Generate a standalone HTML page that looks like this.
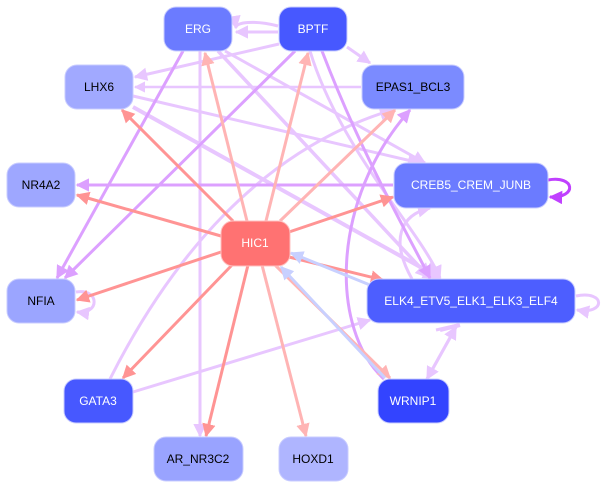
<!DOCTYPE html>
<html><head><meta charset="utf-8"><style>
html,body{margin:0;padding:0;background:#fff;width:606px;height:489px;overflow:hidden}
text{font-family:"Liberation Sans",sans-serif;font-size:12px;text-anchor:middle;dominant-baseline:central}
</style></head><body>
<svg width="606" height="489" viewBox="0 0 606 489" xmlns="http://www.w3.org/2000/svg">
<defs>
<marker id="r" viewBox="0 0 10 10" refX="9" refY="5" markerWidth="4.5" markerHeight="4.5" orient="auto"><path d="M0,0L10,5L0,10z" fill="#ff9494"/></marker>
<marker id="rl" viewBox="0 0 10 10" refX="9" refY="5" markerWidth="4.5" markerHeight="4.5" orient="auto"><path d="M0,0L10,5L0,10z" fill="#ffb4b4"/></marker>
<marker id="p" viewBox="0 0 10 10" refX="9" refY="5" markerWidth="4.5" markerHeight="4.5" orient="auto"><path d="M0,0L10,5L0,10z" fill="#dca0ff"/></marker>
<marker id="pl" viewBox="0 0 10 10" refX="9" refY="5" markerWidth="4.5" markerHeight="4.5" orient="auto"><path d="M0,0L10,5L0,10z" fill="#e8c6ff"/></marker>
<marker id="pd" viewBox="0 0 10 10" refX="9" refY="5" markerWidth="4.5" markerHeight="4.5" orient="auto"><path d="M0,0L10,5L0,10z" fill="#c040ff"/></marker>
<marker id="b" viewBox="0 0 10 10" refX="9" refY="5" markerWidth="4.5" markerHeight="4.5" orient="auto"><path d="M0,0L10,5L0,10z" fill="#c8d0ff"/></marker>
</defs>
<g fill="none" stroke-width="3">
<g stroke="#e8c6ff" marker-end="url(#pl)">
<line x1="200" y1="51" x2="200" y2="436"/>
<line x1="361" y1="87" x2="135" y2="87" stroke-width="2.5"/>
<line x1="279" y1="44" x2="135" y2="77"/>
<line x1="133" y1="96" x2="420" y2="163"/>
<line x1="133" y1="107" x2="440" y2="278" stroke-width="4"/>
<line x1="218" y1="51" x2="430" y2="278" stroke-width="3.5"/>
<line x1="225" y1="51" x2="425" y2="163"/>
<line x1="133" y1="392" x2="370" y2="320"/>
<path d="M110,379 C170,260 260,150 392,110"/>
<path d="M412,279 C390,240 400,215 430,208"/>
<path d="M310,51 C340,150 420,230 440,278"/>
<line x1="436" y1="330" x2="458" y2="325" marker-end="none"/>
<line x1="440" y1="330" x2="460" y2="325" stroke-width="4" marker-end="none"/>
<line x1="427" y1="379" x2="456" y2="327"/>
<line x1="456" y1="327" x2="427" y2="379"/>
<path d="M576,296 C606,290 606,315 577,310"/>
<path d="M76,292 C100,288 100,315 77,312"/>
<path d="M278,26 C255,20 235,22 236,28"/>
<line x1="278" y1="32" x2="236" y2="32"/>
<line x1="347" y1="47" x2="370" y2="63"/>
</g>
<g stroke="#dca0ff" marker-end="url(#p)">
<line x1="393" y1="185" x2="77" y2="185"/>
<line x1="183" y1="51" x2="57" y2="278"/>
<line x1="295" y1="51" x2="65" y2="278"/>
<path d="M384,379 C330,330 330,200 410,110"/>
<path d="M322,51 C360,150 400,220 430,278"/>
</g>
<g stroke="#ff9494" marker-end="url(#r)">
<line x1="221" y1="236" x2="77" y2="195"/>
<line x1="221" y1="252" x2="77" y2="300"/>
<line x1="233" y1="221" x2="122" y2="110"/>
<line x1="289" y1="232" x2="393" y2="197"/>
<line x1="289" y1="257" x2="383" y2="280"/>
<line x1="232" y1="265" x2="123" y2="378"/>
<line x1="248" y1="265" x2="206" y2="436"/>
</g>
<g stroke="#ffb4b4" marker-end="url(#rl)">
<line x1="247" y1="221" x2="205" y2="53"/>
<line x1="266" y1="221" x2="308" y2="53"/>
<line x1="280" y1="221" x2="395" y2="110"/>
<line x1="262" y1="265" x2="306" y2="436"/>
<line x1="275" y1="265" x2="390" y2="378"/>
</g>
<g stroke="#c8d0ff" marker-end="url(#b)">
<line x1="370" y1="285" x2="291" y2="253"/>
<line x1="385" y1="378" x2="281" y2="267"/>
</g>
<path d="M548,180 C575,175 578,198 550,197" stroke="#c040ff" marker-end="url(#pd)"/>
</g>
<g stroke="#c8ccff" stroke-width="1">
<rect x="164" y="7" width="68" height="44" rx="12" fill="#6b7bff"/>
<rect x="279" y="7" width="68" height="44" rx="12" fill="#4758ff"/>
<rect x="362" y="65" width="102" height="44" rx="12" fill="#7b8bff"/>
<rect x="65" y="65" width="68" height="44" rx="12" fill="#a1a9ff"/>
<rect x="7" y="163" width="68" height="44" rx="12" fill="#9ea7ff"/>
<rect x="394" y="163" width="154" height="45" rx="12" fill="#6b7bff"/>
<rect x="221" y="221" width="69" height="45" rx="12" fill="#ff7272" stroke="#ffc0c0"/>
<rect x="7" y="279" width="68" height="44" rx="12" fill="#9ba5ff"/>
<rect x="367" y="279" width="208" height="44" rx="12" fill="#4d5eff"/>
<rect x="64" y="379" width="69" height="44" rx="12" fill="#4758ff"/>
<rect x="378" y="379" width="71" height="44" rx="12" fill="#3344ff"/>
<rect x="154" y="437" width="89" height="44" rx="12" fill="#99a3ff"/>
<rect x="279" y="437" width="69" height="44" rx="12" fill="#afb5ff"/>
</g>
<g fill="#fff">
<text x="198" y="29">ERG</text>
<text x="313" y="29">BPTF</text>
<text x="471" y="185">CREB5_CREM_JUNB</text>
<text x="255" y="243">HIC1</text>
<text x="471" y="301">ELK4_ETV5_ELK1_ELK3_ELF4</text>
<text x="98" y="401">GATA3</text>
<text x="413" y="401">WRNIP1</text>
</g>
<g fill="#000">
<text x="413" y="87">EPAS1_BCL3</text>
<text x="99" y="87">LHX6</text>
<text x="41" y="185">NR4A2</text>
<text x="41" y="301">NFIA</text>
<text x="198" y="459">AR_NR3C2</text>
<text x="313" y="459">HOXD1</text>
</g>
</svg>
</body></html>
